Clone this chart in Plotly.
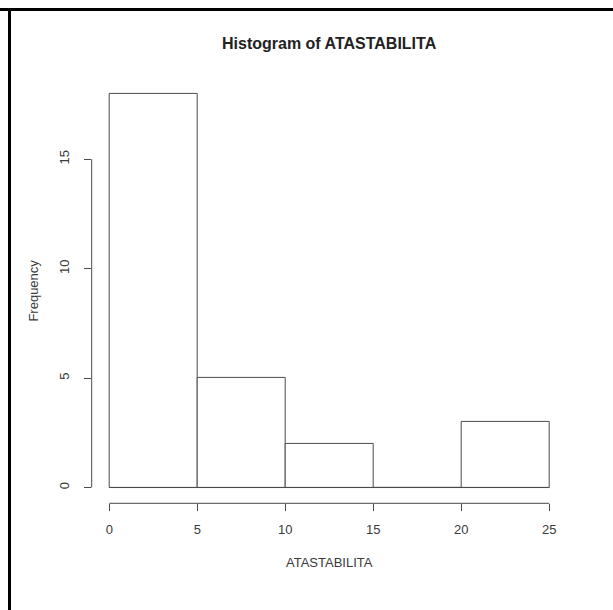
import plotly.graph_objects as go

# ---- data ----
bin_edges = [0, 5, 10, 15, 20, 25]
counts = [18, 5, 2, 0, 3]
x_ticks = [0, 5, 10, 15, 20, 25]
y_ticks = [0, 5, 10, 15]
title_text = "Histogram of ATASTABILITA"
x_label = "ATASTABILITA"
y_label = "Frequency"

W, H = 613, 610
# plot region in pixels (R-like)
px_l, px_r = 91.7, 566.9
py_t, py_b = 77.9, 503.3

centers = [(a + b) / 2 for a, b in zip(bin_edges[:-1], bin_edges[1:])]
widths = [b - a for a, b in zip(bin_edges[:-1], bin_edges[1:])]

line_col = "#4a4a4a"
text_col = "#3a3a3a"
font_fam = "Liberation Sans, Arial, sans-serif"

xr = bin_edges[-1] - bin_edges[0]
yr = max(counts)
x_range = [bin_edges[0] - 0.04 * xr, bin_edges[-1] + 0.04 * xr]
y_range = [0 - 0.04 * yr, yr + 0.04 * yr]

fig = go.Figure()
fig.add_trace(go.Bar(
    x=centers, y=counts, width=widths,
    marker=dict(color="white", line=dict(color=line_col, width=1)),
    showlegend=False, hoverinfo="x+y",
))

shapes = []
# baseline for histogram (covers zero-count bins)
shapes.append(dict(type="line", xref="x", yref="y",
                   x0=bin_edges[0], x1=bin_edges[-1], y0=0, y1=0,
                   line=dict(color=line_col, width=1)))
# x axis line (from first to last tick)
shapes.append(dict(type="line", xref="x", yref="paper",
                   x0=x_ticks[0], x1=x_ticks[-1], y0=0 if False else (H - py_b) / H, y1=(H - py_b) / H,
                   line=dict(color=line_col, width=1)))
# y axis line
shapes.append(dict(type="line", xref="paper", yref="y",
                   x0=px_l / W, x1=px_l / W, y0=y_ticks[0], y1=y_ticks[-1],
                   line=dict(color=line_col, width=1)))
# outer black frame (top and left)
shapes.append(dict(type="line", xref="paper", yref="paper",
                   x0=0, x1=1, y0=(H - 9.5) / H, y1=(H - 9.5) / H,
                   line=dict(color="black", width=3)))
shapes.append(dict(type="line", xref="paper", yref="paper",
                   x0=9.5 / W, x1=9.5 / W, y0=0, y1=(H - 9.5) / H,
                   line=dict(color="black", width=3)))

annotations = [
    dict(text=f"<b>{title_text}</b>", xref="paper", yref="paper",
         x=(px_l + px_r) / 2 / W, y=(H - 43) / H, showarrow=False,
         xanchor="center", yanchor="middle",
         font=dict(family=font_fam, size=16, color="#222222")),
    dict(text=x_label, xref="paper", yref="paper",
         x=(px_l + px_r) / 2 / W, y=(H - 562) / H, showarrow=False,
         xanchor="center", yanchor="middle",
         font=dict(family=font_fam, size=13, color=text_col)),
    dict(text=y_label, xref="paper", yref="paper",
         x=34 / W, y=(H - (py_t + py_b) / 2) / H, showarrow=False,
         xanchor="center", yanchor="middle", textangle=-90,
         font=dict(family=font_fam, size=13, color=text_col)),
]

fig.update_layout(
    width=W, height=H, autosize=False,
    margin=dict(l=0, r=0, t=0, b=0, pad=0),
    paper_bgcolor="white", plot_bgcolor="white",
    bargap=0, shapes=shapes, annotations=annotations,
    xaxis=dict(domain=[px_l / W, px_r / W], range=x_range,
               tickvals=x_ticks, ticktext=[str(v) for v in x_ticks],
               ticks="outside", ticklen=7, tickwidth=1, tickcolor=line_col,
               showgrid=False, zeroline=False, showline=False,
               ticklabelstandoff=7,
               tickfont=dict(family=font_fam, size=13, color=text_col)),
    yaxis=dict(domain=[(H - py_b) / H, (H - py_t) / H], range=y_range,
               tickvals=y_ticks, ticktext=[str(v) for v in y_ticks],
               ticks="outside", ticklen=7, tickwidth=1, tickcolor=line_col,
               showgrid=False, zeroline=False, showline=False,
               tickangle=-90, ticklabelstandoff=10,
               tickfont=dict(family=font_fam, size=13, color=text_col)),
)

fig.write_html("out.html")
